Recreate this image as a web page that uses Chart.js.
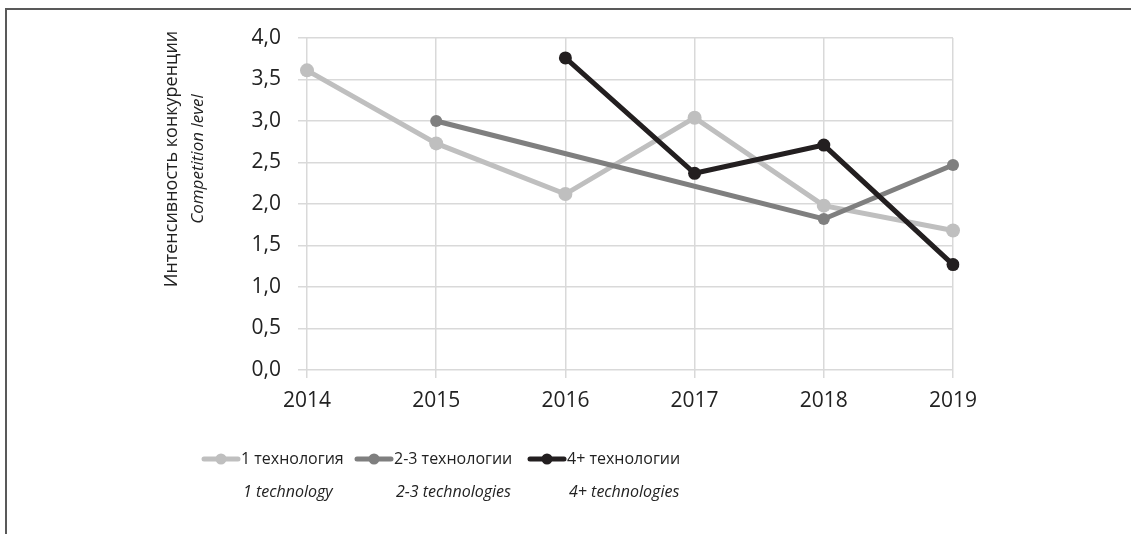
<!DOCTYPE html>
<html>
<head>
<meta charset="utf-8">
<script src="https://cdn.jsdelivr.net/npm/chart.js@4"></script>
<style>
  html, body { margin: 0; padding: 0; background: #fff; }
  #wrap { position: relative; width: 1131px; height: 534px; overflow: hidden; }
  #frame { position: absolute; left: 5px; top: 8px; width: 1200px; height: 600px;
           border-top: 2px solid #595959; border-left: 2px solid #595959; }
  canvas { position: absolute; left: 0; top: 0; }
</style>
</head>
<body>
<div id="wrap">
  <div id="frame"></div>
  <canvas id="chart" width="1131" height="534"></canvas>
</div>
<script>
const years = ["2014", "2015", "2016", "2017", "2018", "2019"];
const oneTech = [3.61, 2.73, 2.12, 3.04, 1.98, 1.68];
const twoThreeTech = [null, 3.0, null, null, 1.82, 2.47];
const fourPlusTech = [null, null, 3.76, 2.37, 2.71, 1.27];
const yTicks = [0, 0.5, 1, 1.5, 2, 2.5, 3, 3.5, 4];

const seriesNames = ["1 технология", "2-3 технологии", "4+ технологии"];
const seriesNamesEn = ["1 technology", "2-3 technologies", "4+ technologies"];
const seriesColors = ["#bfbfbf", "#7f7f7f", "#231f20"];

const FONT = "'Open Sans', 'Noto Sans', sans-serif";

const datasetFor = function (i, values, radius) {
  return {
    label: seriesNames[i],
    data: values,
    borderColor: seriesColors[i],
    backgroundColor: seriesColors[i],
    borderWidth: 5,
    pointRadius: radius,
    pointBorderWidth: 0,
    spanGaps: true,
    tension: 0,
    order: 3 - i,
  };
};

// y-axis title (two lines, second italic) and the legend below the plot
const extras = {
  id: "extras",
  afterDraw(chart) {
    const ctx = chart.ctx;
    const area = chart.chartArea;
    ctx.save();
    ctx.fillStyle = "#222";
    ctx.textAlign = "center";
    ctx.textBaseline = "middle";
    ctx.translate(area.left - 122, area.top + 121);
    ctx.rotate(-Math.PI / 2);
    ctx.font = "18px " + FONT;
    ctx.fillText("Интенсивность конкуренции", 0, -13);
    ctx.font = "italic 17px " + FONT;
    ctx.fillText("Competition level", 0, 13);
    ctx.restore();

    const startX = [202, 355, 528];
    const row1 = 459, row2 = 492;
    ctx.save();
    ctx.textBaseline = "middle";
    ctx.textAlign = "left";
    for (let i = 0; i < 3; i++) {
      const x = startX[i];
      ctx.strokeStyle = seriesColors[i];
      ctx.fillStyle = seriesColors[i];
      ctx.lineWidth = 5;
      ctx.lineCap = "round";
      ctx.beginPath();
      ctx.moveTo(x + 2, row1);
      ctx.lineTo(x + 36, row1);
      ctx.stroke();
      ctx.beginPath();
      ctx.arc(x + 19, row1, 5.5, 0, Math.PI * 2);
      ctx.fill();
      ctx.fillStyle = "#222";
      ctx.font = "16px " + FONT;
      ctx.fillText(seriesNames[i], x + 39, row1);
      ctx.font = "italic 16px " + FONT;
      ctx.fillText(seriesNamesEn[i], x + 41, row2);
    }
    ctx.restore();
  },
};

const init = function () {
  const canvas = document.getElementById("chart");
  new Chart(canvas, {
    type: "line",
    data: {
      labels: years,
      datasets: [
        datasetFor(0, oneTech, 7),
        datasetFor(1, twoThreeTech, 6),
        datasetFor(2, fourPlusTech, 6.5),
      ],
    },
    options: {
      responsive: false,
      animation: false,
      layout: { padding: { top: 38, right: 178, bottom: 0, left: 0 } },
      plugins: { legend: { display: false }, tooltip: { enabled: false } },
      scales: {
        x: {
          offset: false,
          afterFit: (scale) => { scale.height = 164; },
          grid: { color: "#d9d9d9", lineWidth: 1.5, tickLength: 8, drawTicks: true },
          border: { display: false },
          ticks: { color: "#222", font: { family: FONT, size: 21 }, padding: 10, maxRotation: 0 },
        },
        y: {
          min: 0,
          max: 4,
          afterFit: (scale) => { scale.width = 307; },
          afterBuildTicks: (scale) => { scale.ticks = yTicks.map((v) => ({ value: v })); },
          grid: { color: "#d9d9d9", lineWidth: 1.5, tickLength: 9 },
          border: { display: false },
          ticks: {
            color: "#222",
            font: { family: FONT, size: 21 },
            padding: 17,
            callback: (v) => v.toFixed(1).replace(".", ","),
          },
        },
      },
    },
    plugins: [extras],
  });
};

window.onload = init;
</script>
</body>
</html>
